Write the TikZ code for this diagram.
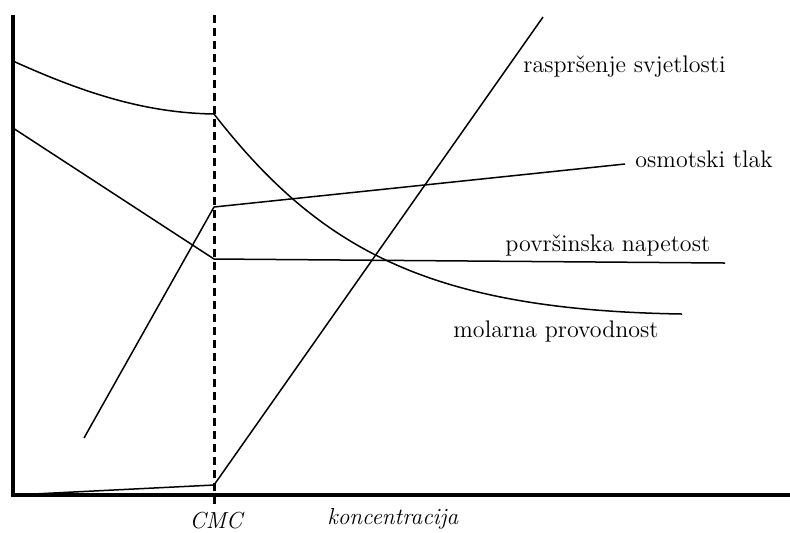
\documentclass[tikz,border=0pt]{standalone}
\begin{document}
\begin{tikzpicture}[x=0.5pt,y=-0.5pt,
  axis/.style={line width=1.6pt},
  cmcline/.style={line width=1.5pt,dash pattern=on 4pt off 2.5pt},
  curve/.style={line width=0.75pt},
  lbl/.style={anchor=base west,inner sep=0pt,font=\fontsize{12}{14}\selectfont},
  ilbl/.style={anchor=base,inner sep=0pt,font=\fontsize{11.6}{13}\selectfont\itshape}]
\path[use as bounding box] (0,0) rectangle (790,532);
% axes
\coordinate (ytop) at (13,15);
\coordinate (orig) at (13,495);
\coordinate (xend) at (790,495);
\draw[axis] (ytop) -- (orig) -- (xend);
% CMC dashed line
\coordinate (ctop) at (214,15);
\coordinate (cbot) at (214,508);
\draw[cmcline] (ctop) -- (cbot);
% molarna provodnost
\coordinate (m0) at (13,61);
\coordinate (m1) at (214,114);
\coordinate (m2) at (682,314);
\draw[curve] (m0) .. controls (90,96) and (150,113) .. (m1)
  .. controls (320,250) and (430,310) .. (m2);
% povrsinska napetost
\coordinate (p0) at (13,128);
\coordinate (p1) at (214,259);
\coordinate (p2) at (725,263);
\draw[curve] (p0) -- (p1) -- (p2);
% osmotski tlak
\coordinate (o0) at (84,438);
\coordinate (o1) at (214,207);
\coordinate (o2) at (625,164);
\draw[curve] (o0) -- (o1) -- (o2);
% rasprsenje svjetlosti
\coordinate (r0) at (13,495);
\coordinate (r1) at (214,485);
\coordinate (r2) at (543,17);
\draw[curve] (r0) -- (r1) -- (r2);
% labels
\node[lbl] (lr) at (523,72) {raspršenje svjetlosti};
\node[lbl] (lo) at (635,167) {osmotski tlak};
\node[lbl] (lp) at (505,251) {površinska napetost};
\node[lbl] (lm) at (453,337) {molarna provodnost};
\node[ilbl] (lc) at (216,528) {CMC};
\node[ilbl,anchor=base west] (lk) at (327,524) {koncentracija};
\end{tikzpicture}
\end{document}
